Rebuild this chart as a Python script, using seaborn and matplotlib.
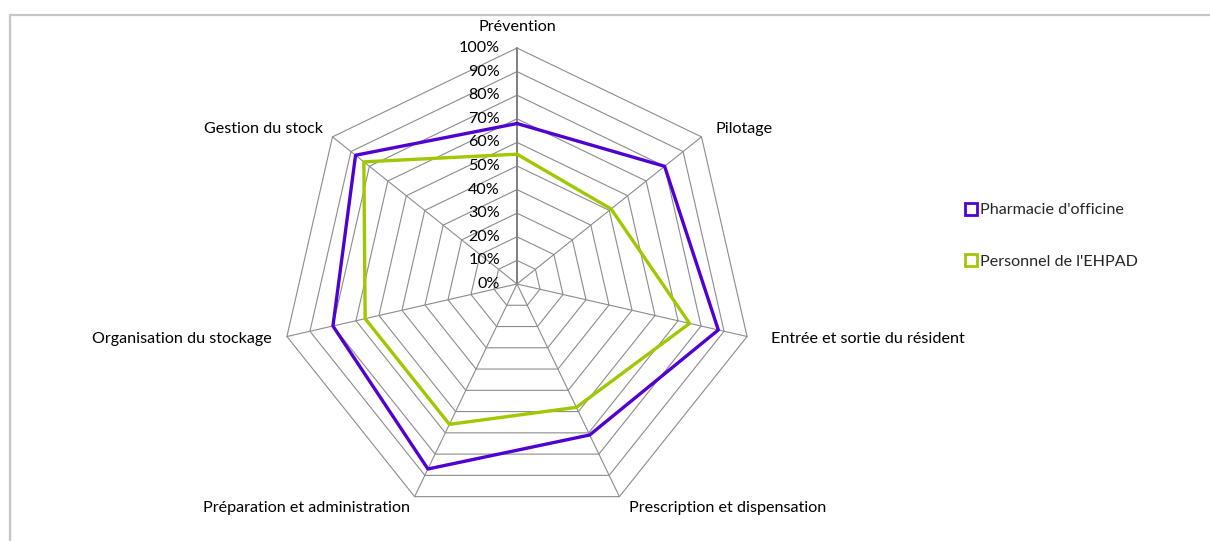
import numpy as np
import pandas as pd
import matplotlib
matplotlib.use("Agg")
import matplotlib.pyplot as plt
import seaborn as sb
from matplotlib.lines import Line2D

sb.set_style("white")
plt.rcParams['font.family'] = ['Lato', 'DejaVu Sans']

categories = ["Prévention", "Pilotage", "Entrée et sortie du résident",
              "Prescription et dispensation", "Préparation et administration",
              "Organisation du stockage", "Gestion du stock"]
pharmacie = [0.68, 0.80, 0.875, 0.71, 0.87, 0.80, 0.875]
personnel = [0.55, 0.51, 0.75, 0.58, 0.66, 0.66, 0.83]
series_names = ["Pharmacie d'officine", "Personnel de l'EHPAD"]
ring_levels = [0.0, 0.1, 0.2, 0.3, 0.4, 0.5, 0.6, 0.7, 0.8, 0.9, 1.0]
ring_labels = ["0%", "10%", "20%", "30%", "40%", "50%", "60%", "70%", "80%", "90%", "100%"]

colors = ["#5000D2", "#A0C800"]
grid_col = "#8c8c8c"
fs = 11.6

# label placement (points offset from the 100% vertex, alignment)
label_layout = [((0, 10), "center", "bottom"),
                ((10, 6), "left", "center"),
                ((17, -2), "left", "center"),
                ((7, -8), "left", "center"),
                ((-3, -8), "right", "center"),
                ((-11, -2), "right", "center"),
                ((-7, 6), "right", "center")]

n = len(categories)
ang = np.arange(n) * 2 * np.pi / n
ux, uy = np.sin(ang), np.cos(ang)

fig = plt.figure(figsize=(12.10, 5.41), dpi=100)
ax = fig.add_axes([0, 0, 1, 1])
R = 236.0
cx, cy = 517.0, 284.0
ax.set_xlim(-cx / R, (1210 - cx) / R)
ax.set_ylim(-(541 - cy) / R, cy / R)
ax.axis("off")

# chart frame (Excel style border cut by the image edges)
fig.add_artist(Line2D([10 / 1210, 10 / 1210], [0, 1 - 14.5 / 541], transform=fig.transFigure,
                      color="#c6c6c6", lw=1.6))
fig.add_artist(Line2D([10 / 1210, 1], [1 - 14.5 / 541, 1 - 14.5 / 541], transform=fig.transFigure,
                      color="#c6c6c6", lw=1.6))

# polygon grid
for r in ring_levels[1:]:
    ax.plot(np.append(ux, ux[0]) * r, np.append(uy, uy[0]) * r, color=grid_col, lw=0.8, zorder=1)
for i in range(n):
    ax.plot([0, ux[i]], [0, uy[i]], color="#7f7f7f" if i == 0 else grid_col,
            lw=1.4 if i == 0 else 0.8, zorder=1)

# value labels on the first axis
for r, lab in zip(ring_levels, ring_labels):
    ax.text(-17 / R, r, lab, ha="right", va="center", fontsize=fs, color="black")

# category labels
for i, cat in enumerate(categories):
    off, ha, va = label_layout[i]
    ax.annotate(cat, xy=(ux[i], uy[i]), xytext=off, textcoords="offset points",
                ha=ha, va=va, fontsize=fs, color="black")

# data
rows = []
for name, vals in zip(series_names, [pharmacie, personnel]):
    for k in range(n + 1):
        j = k % n
        rows.append({"serie": name, "order": k, "x": vals[j] * ux[j], "y": vals[j] * uy[j]})
df = pd.DataFrame(rows)
sb.lineplot(data=df, x="x", y="y", hue="serie", units="serie", estimator=None, sort=False,
            palette=colors, lw=2.4, ax=ax, legend=False, zorder=3)

handles = [Line2D([], [], marker="s", ls="none", markersize=8, markerfacecolor="white",
                  markeredgecolor=c, markeredgewidth=2) for c in colors]
leg = fig.legend(handles, series_names, loc="upper left", bbox_to_anchor=(955 / 1210, 1 - 195 / 541),
                 frameon=False, fontsize=fs, labelspacing=2.3, handletextpad=0.05,
                 handlelength=1.0, borderpad=0)

fig.savefig("out.png", dpi=100)
